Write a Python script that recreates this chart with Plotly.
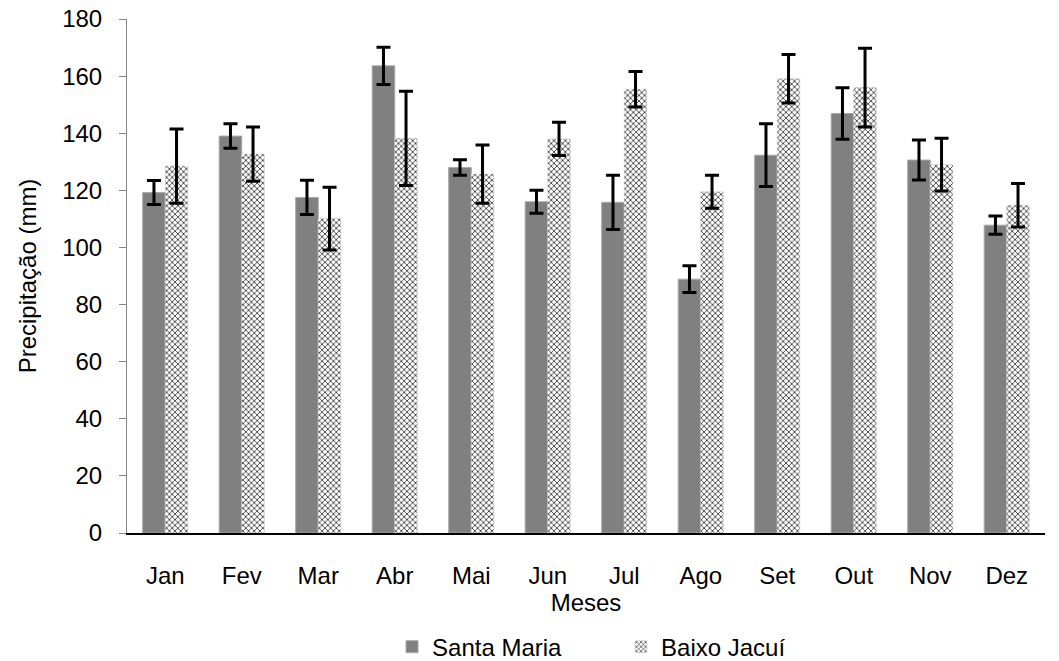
import plotly.graph_objects as go

meses = ["Jan", "Fev", "Mar", "Abr", "Mai", "Jun", "Jul", "Ago", "Set", "Out", "Nov", "Dez"]
santa_maria = [119.2, 139.0, 117.5, 163.6, 128.0, 116.0, 115.8, 88.9, 132.3, 146.9, 130.6, 107.8]
santa_maria_err = [4.2, 4.3, 6.0, 6.5, 2.7, 4.0, 9.5, 4.7, 11.0, 9.0, 7.0, 3.2]
baixo_jacui = [128.5, 132.7, 110.1, 138.2, 125.7, 138.0, 155.4, 119.5, 159.1, 156.0, 129.0, 114.8]
baixo_jacui_err = [13.0, 9.5, 11.0, 16.5, 10.2, 5.8, 6.2, 5.8, 8.5, 13.8, 9.2, 7.6]

font = "Liberation Sans, Arial, sans-serif"

fig = go.Figure()
fig.add_trace(go.Bar(
    x=meses, y=santa_maria, name="Santa Maria",
    marker=dict(color="#808080", line=dict(color="#a8a8a8", width=1)),
    error_y=dict(type="data", array=santa_maria_err, visible=True,
                 color="black", thickness=3, width=7),
))
fig.add_trace(go.Bar(
    x=meses, y=baixo_jacui, name="Baixo Jacuí",
    marker=dict(color="white",
                pattern=dict(shape="x", size=4, solidity=0.4,
                             fgcolor="#404040", bgcolor="white", fillmode="replace"),
                line=dict(color="#c8c8c8", width=0.5)),
    error_y=dict(type="data", array=baixo_jacui_err, visible=True,
                 color="black", thickness=3, width=7),
))

fig.update_layout(
    width=1059, height=661,
    margin=dict(l=127, r=14, t=19, b=128, autoexpand=False),
    paper_bgcolor="white", plot_bgcolor="white",
    barmode="group", bargap=0.41, bargroupgap=0,
    font=dict(family=font, size=24, color="black"),
    showlegend=True,
    legend=dict(orientation="h", x=0.2887, xanchor="left", y=-0.222, yanchor="middle",
                font=dict(size=24), entrywidth=184, itemwidth=30,
                tracegroupgap=0),
    xaxis=dict(
        title=dict(text="Meses", font=dict(size=24), standoff=2),
        showline=True, linecolor="black", linewidth=2,
        ticks="", tickfont=dict(size=24), showgrid=False,
        ticklabelstandoff=20, automargin=False,
    ),
    yaxis=dict(
        title=dict(text="Precipitação (mm)", font=dict(size=24), standoff=18),
        range=[0, 180], dtick=20, tick0=0,
        showline=True, linecolor="#868686", linewidth=1,
        ticks="outside", ticklen=7, tickcolor="#868686",
        tickfont=dict(size=24), showgrid=False, zeroline=False,
        ticklabelstandoff=12, automargin=False, ticklabeloverflow="allow",
    ),
)

fig.write_html("out.html", config={"displayModeBar": False},
               post_script="document.body.style.margin='0';")
